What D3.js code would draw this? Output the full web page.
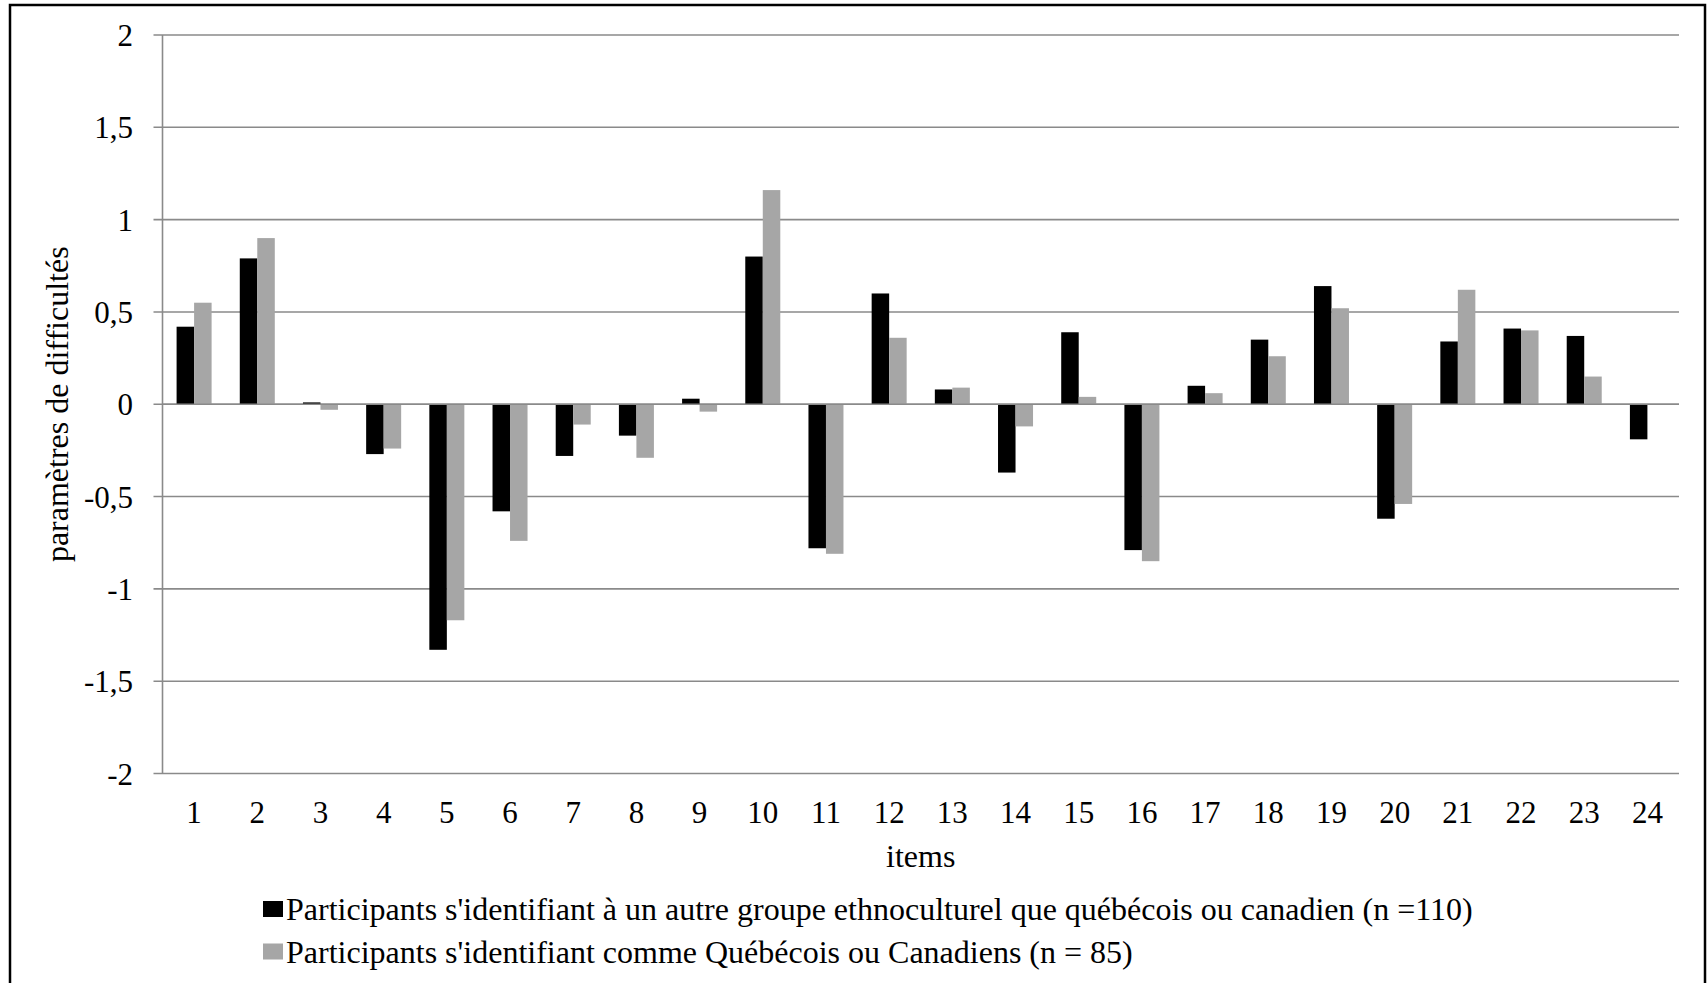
<!DOCTYPE html>
<html>
<head>
<meta charset="utf-8">
<script src="https://cdn.jsdelivr.net/npm/d3@7"></script>
<style>
  body { margin: 0; background: #fff; }
  svg text { font-family: "Liberation Serif", "Times New Roman", serif; fill: #000; }
</style>
</head>
<body>
<svg width="1708" height="983"></svg>
<script>
var items = ["1","2","3","4","5","6","7","8","9","10","11","12","13","14","15","16","17","18","19","20","21","22","23","24"];
var autreGroupe = [0.42, 0.79, 0.01, -0.27, -1.33, -0.58, -0.28, -0.17, 0.03, 0.80, -0.78, 0.60,
                   0.08, -0.37, 0.39, -0.79, 0.10, 0.35, 0.64, -0.62, 0.34, 0.41, 0.37, -0.19];
var quebecois = [0.55, 0.90, -0.03, -0.24, -1.17, -0.74, -0.11, -0.29, -0.04, 1.16, -0.81, 0.36,
                 0.09, -0.12, 0.04, -0.85, 0.06, 0.26, 0.52, -0.54, 0.62, 0.40, 0.15, 0];
var yTicks = [-2, -1.5, -1, -0.5, 0, 0.5, 1, 1.5, 2];
var seriesNames = ["Participants s'identifiant à un autre groupe ethnoculturel que québécois ou canadien (n =110)",
                   "Participants s'identifiant comme Québécois ou Canadiens (n = 85)"];
var seriesColors = ["#000000", "#a6a6a6"];

var svg = d3.select("svg");
var plotLeft = 162.5, plotRight = 1679, plotTop = 35, plotBottom = 773.5;

// frame
svg.append("rect")
    .attr("x", 10).attr("y", 5)
    .attr("width", 1695).attr("height", 995)
    .style("fill", "none").style("stroke", "#000").style("stroke-width", 2.5);

var x = d3.scaleBand().domain(items).range([plotLeft, plotRight]);
var y = d3.scaleLinear().domain([-2, 2]).range([plotBottom, plotTop]);
var fmt = function(d) { return String(d).replace(".", ","); };

// gridlines + y labels
svg.selectAll(".grid")
    .data(yTicks)
  .enter().append("line")
    .attr("x1", plotLeft - 9).attr("x2", plotRight)
    .attr("y1", function(d) { return y(d); })
    .attr("y2", function(d) { return y(d); })
    .style("stroke", "#8a8a8a").style("stroke-width", 1.6);

svg.selectAll(".ylab")
    .data(yTicks)
  .enter().append("text")
    .attr("x", 133)
    .attr("y", function(d) { return y(d) + 11; })
    .attr("text-anchor", "end")
    .style("font-size", "31px")
    .text(fmt);

svg.append("line")
    .attr("x1", plotLeft).attr("x2", plotLeft)
    .attr("y1", plotTop).attr("y2", plotBottom)
    .style("stroke", "#8a8a8a").style("stroke-width", 1.6);

// bars
var w = x.bandwidth() * 0.277;
var series = [autreGroupe, quebecois];
series.forEach(function(vals, s) {
    svg.selectAll(".bar" + s)
        .data(vals)
      .enter().append("rect")
        .attr("x", function(d, i) { return x(items[i]) + x.bandwidth() / 2 - w + s * w; })
        .attr("y", function(d) { return y(Math.max(0, d)); })
        .attr("width", w)
        .attr("height", function(d) { return Math.abs(y(d) - y(0)); })
        .style("fill", seriesColors[s]);
});

// zero line on top
svg.append("line")
    .attr("x1", plotLeft).attr("x2", plotRight)
    .attr("y1", y(0)).attr("y2", y(0))
    .style("stroke", "#8a8a8a").style("stroke-width", 1.6);

// x labels
svg.selectAll(".xlab")
    .data(items)
  .enter().append("text")
    .attr("x", function(d) { return x(d) + x.bandwidth() / 2; })
    .attr("y", 823)
    .attr("text-anchor", "middle")
    .style("font-size", "31px")
    .text(function(d) { return d; });

svg.append("text")
    .attr("x", (plotLeft + plotRight) / 2).attr("y", 867)
    .attr("text-anchor", "middle")
    .style("font-size", "32px")
    .text("items");

svg.append("text")
    .attr("transform", "translate(68," + ((plotTop + plotBottom) / 2) + ") rotate(-90)")
    .attr("text-anchor", "middle")
    .style("font-size", "32px")
    .text("paramètres de difficultés");

// legend
seriesNames.forEach(function(name, s) {
    var ly = 920 + s * 42.5;
    svg.append("rect")
        .attr("x", 263).attr("y", ly - 19)
        .attr("width", 20).attr("height", 16)
        .style("fill", seriesColors[s]);
    svg.append("text")
        .attr("x", 286).attr("y", ly)
        .style("font-size", "32px")
        .text(name);
});
</script>
</body>
</html>
